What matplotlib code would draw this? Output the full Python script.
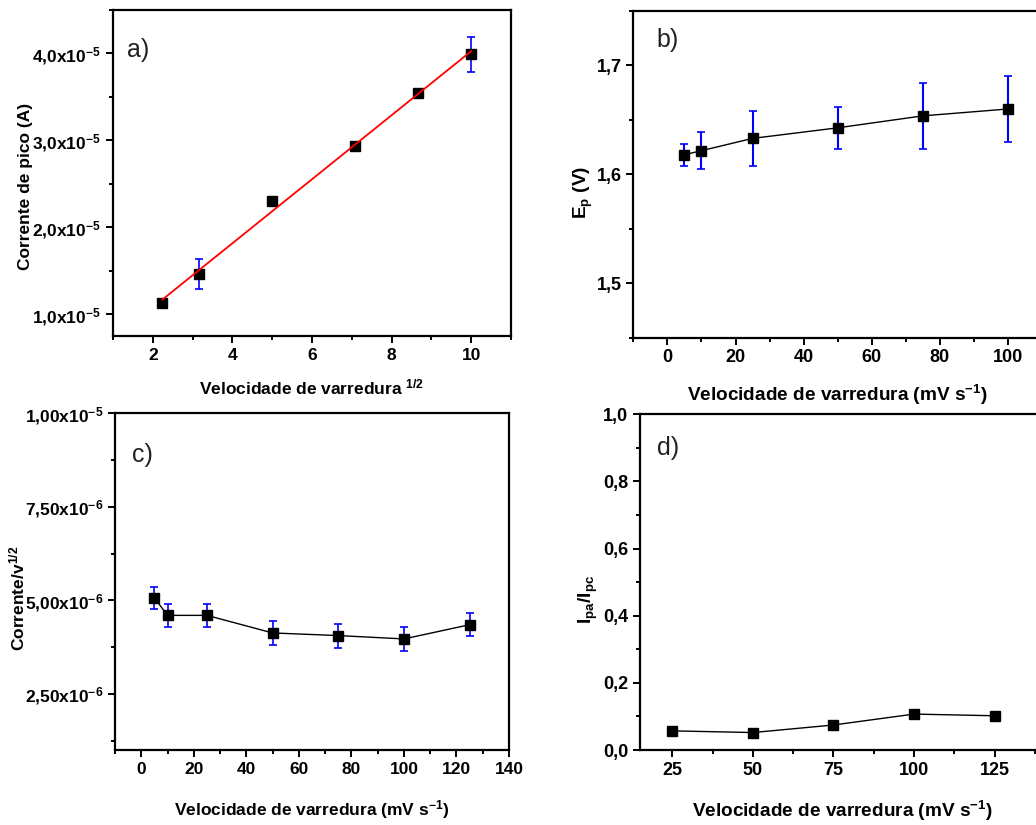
import numpy as np
import matplotlib
matplotlib.use("Agg")
import matplotlib.pyplot as plt
from matplotlib.ticker import MultipleLocator, FuncFormatter

plt.rcParams['font.family'] = ['Liberation Sans', 'DejaVu Sans']
plt.rcParams['font.weight'] = 'bold'
plt.rcParams['axes.labelweight'] = 'bold'
plt.rcParams['mathtext.fontset'] = 'custom'
plt.rcParams['mathtext.rm'] = 'Liberation Sans:bold'
plt.rcParams['mathtext.it'] = 'Liberation Sans:bold'
plt.rcParams['mathtext.bf'] = 'Liberation Sans:bold'
plt.rcParams['mathtext.default'] = 'rm'
plt.rcParams['axes.unicode_minus'] = False

# --- dados ---
# a) corrente de pico vs raiz da velocidade
raiz_v = [np.sqrt(5), np.sqrt(10), 5.0, np.sqrt(50), np.sqrt(75), 10.0]
ip_a = [1.133e-5, 1.463e-5, 2.306e-5, 2.935e-5, 3.54e-5, 3.99e-5]
ip_a_err = [0.03e-5, 0.176e-5, 0.02e-5, 0.015e-5, 0.04e-5, 0.20e-5]

# b) potencial de pico
vel_b = [5, 10, 25, 50, 75, 100]
ep_b = [1.618, 1.6217, 1.633, 1.6427, 1.6537, 1.660]
ep_b_err = [0.010, 0.017, 0.025, 0.019, 0.030, 0.030]

# c) corrente / v^1/2
vel_c = [5, 10, 25, 50, 75, 100, 125]
ic_c = [5.07e-6, 4.60e-6, 4.60e-6, 4.13e-6, 4.06e-6, 3.97e-6, 4.35e-6]
ic_c_err = [0.30e-6, 0.31e-6, 0.31e-6, 0.31e-6, 0.32e-6, 0.31e-6, 0.31e-6]

# d) razao Ipa/Ipc
vel_d = [25, 50, 75, 100, 125]
razao_d = [0.057, 0.052, 0.0745, 0.107, 0.102]

FS_TICK = 12.5
FS_LAB = 12.5
FS_LAB_DIR = 13.7   # paineis b e d tem rotulos um pouco maiores
AZUL = '#0000ff'


def fmt_sci(dec):
    def f(v, pos):
        if v == 0:
            return '0'
        e = int(np.floor(np.log10(abs(v)) + 1e-9))
        m = v / 10 ** e
        s = f"{m:.{dec}f}".replace('.', ',')
        return s + "x10$^{" + str(e) + "}$"
    return FuncFormatter(f)


def virgula(dec):
    return FuncFormatter(lambda v, pos: f"{v:.{dec}f}".replace('.', ','))


def estilo(ax, fs=FS_TICK):
    for s in ax.spines.values():
        s.set_linewidth(1.6)
    ax.tick_params(which='both', direction='out', top=False, right=False,
                   width=1.4, labelsize=fs)
    ax.tick_params(which='major', length=5)
    ax.tick_params(which='minor', length=3)


fig = plt.figure(figsize=(10.36, 8.25), dpi=100)

# ---- a) ----
ax = fig.add_axes([0.1091, 0.5927, 0.3841, 0.3952])
ax.errorbar(raiz_v, ip_a, yerr=ip_a_err, fmt='none', ecolor=AZUL, elinewidth=1.2,
            capsize=3, capthick=1.2, zorder=2)
ax.plot(raiz_v, ip_a, 's', color='black', markersize=6.5, zorder=3)
coef = np.polyfit(raiz_v, ip_a, 1)
xx = np.array([raiz_v[0], raiz_v[-1]])
ax.plot(xx, np.polyval(coef, xx), color='red', linewidth=1.3, zorder=4)
ax.set_xlim(1, 11)
ax.set_ylim(0.75e-5, 4.5e-5)
ax.xaxis.set_major_locator(MultipleLocator(2))
ax.xaxis.set_minor_locator(MultipleLocator(1))
ax.yaxis.set_major_locator(MultipleLocator(1e-5))
ax.yaxis.set_minor_locator(MultipleLocator(0.5e-5))
ax.yaxis.set_major_formatter(fmt_sci(1))
estilo(ax)
ax.set_xlabel("Velocidade de varredura $^{1/2}$", fontsize=FS_LAB)
ax.set_ylabel("Corrente de pico (A)", fontsize=FS_LAB)
ax.xaxis.set_label_coords(0.5, -0.126)
ax.yaxis.set_label_coords(-0.201, 0.46)
ax.text(0.035, 0.877, "a)", transform=ax.transAxes, fontsize=18,
        fontweight='normal', va='center', ha='left', color='#222222')

# ---- b) ----
ax = fig.add_axes([0.6113, 0.5907, 0.3946, 0.396])
ax.errorbar(vel_b, ep_b, yerr=ep_b_err, fmt='none', ecolor=AZUL, elinewidth=1.5,
            capsize=3, capthick=1.2, zorder=2)
ax.plot(vel_b, ep_b, 's-', color='black', markersize=6.5, linewidth=1.0, zorder=3)
ax.set_xlim(-10, 110)
ax.set_ylim(1.45, 1.75)
ax.xaxis.set_major_locator(MultipleLocator(20))
ax.xaxis.set_minor_locator(MultipleLocator(10))
ax.yaxis.set_major_locator(MultipleLocator(0.1))
ax.yaxis.set_minor_locator(MultipleLocator(0.05))
ax.yaxis.set_major_formatter(virgula(1))
estilo(ax, 13)
ax.set_xlabel("Velocidade de varredura (mV s$^{-1}$)", fontsize=FS_LAB_DIR)
ax.set_ylabel("E$_p$ (V)", fontsize=FS_LAB_DIR)
ax.xaxis.set_label_coords(0.5, -0.139)
ax.yaxis.set_label_coords(-0.094, 0.446)
ax.text(0.057, 0.911, "b)", transform=ax.transAxes, fontsize=18,
        fontweight='normal', va='center', ha='left', color='#222222')

# ---- c) ----
ax = fig.add_axes([0.111, 0.0909, 0.3803, 0.408])
ax.errorbar(vel_c, ic_c, yerr=ic_c_err, fmt='none', ecolor=AZUL, elinewidth=1.2,
            capsize=3, capthick=1.2, zorder=2)
ax.plot(vel_c, ic_c, 's-', color='black', markersize=6.5, linewidth=1.0, zorder=3)
ax.set_xlim(-10, 140)
ax.set_ylim(1.0e-6, 1.0e-5)
ax.xaxis.set_major_locator(MultipleLocator(20))
ax.xaxis.set_minor_locator(MultipleLocator(10))
ax.yaxis.set_major_locator(MultipleLocator(2.5e-6))
ax.yaxis.set_minor_locator(MultipleLocator(1.25e-6))
ax.yaxis.set_major_formatter(fmt_sci(2))
estilo(ax)
ax.set_xlabel("Velocidade de varredura (mV s$^{-1}$)", fontsize=FS_LAB)
ax.set_ylabel("Corrente/v$^{1/2}$", fontsize=FS_LAB)
ax.xaxis.set_label_coords(0.5, -0.143)
ax.yaxis.set_label_coords(-0.223, 0.451)
ax.text(0.042, 0.876, "c)", transform=ax.transAxes, fontsize=18,
        fontweight='normal', va='center', ha='left', color='#222222')

# ---- d) ----
ax = fig.add_axes([0.6178, 0.0909, 0.389, 0.407])
ax.plot(vel_d, razao_d, 's-', color='black', markersize=7.5, linewidth=1.0, zorder=3)
ax.set_xlim(15, 140)
ax.set_ylim(0, 1.0)
ax.xaxis.set_major_locator(MultipleLocator(25))
ax.xaxis.set_minor_locator(MultipleLocator(12.5))
ax.yaxis.set_major_locator(MultipleLocator(0.2))
ax.yaxis.set_minor_locator(MultipleLocator(0.1))
ax.yaxis.set_major_formatter(virgula(1))
ax.xaxis.set_major_formatter(FuncFormatter(lambda v, pos: f"{v:.0f}"))
estilo(ax, 13)
ax.set_xlabel("Velocidade de varredura (mV s$^{-1}$)", fontsize=FS_LAB_DIR)
ax.set_ylabel("I$_{pa}$/I$_{pc}$", fontsize=FS_LAB_DIR)
ax.xaxis.set_label_coords(0.503, -0.147)
ax.yaxis.set_label_coords(-0.099, 0.45)
ax.text(0.041, 0.9, "d)", transform=ax.transAxes, fontsize=18,
        fontweight='normal', va='center', ha='left', color='#222222')

fig.savefig("out.png", dpi=100)
